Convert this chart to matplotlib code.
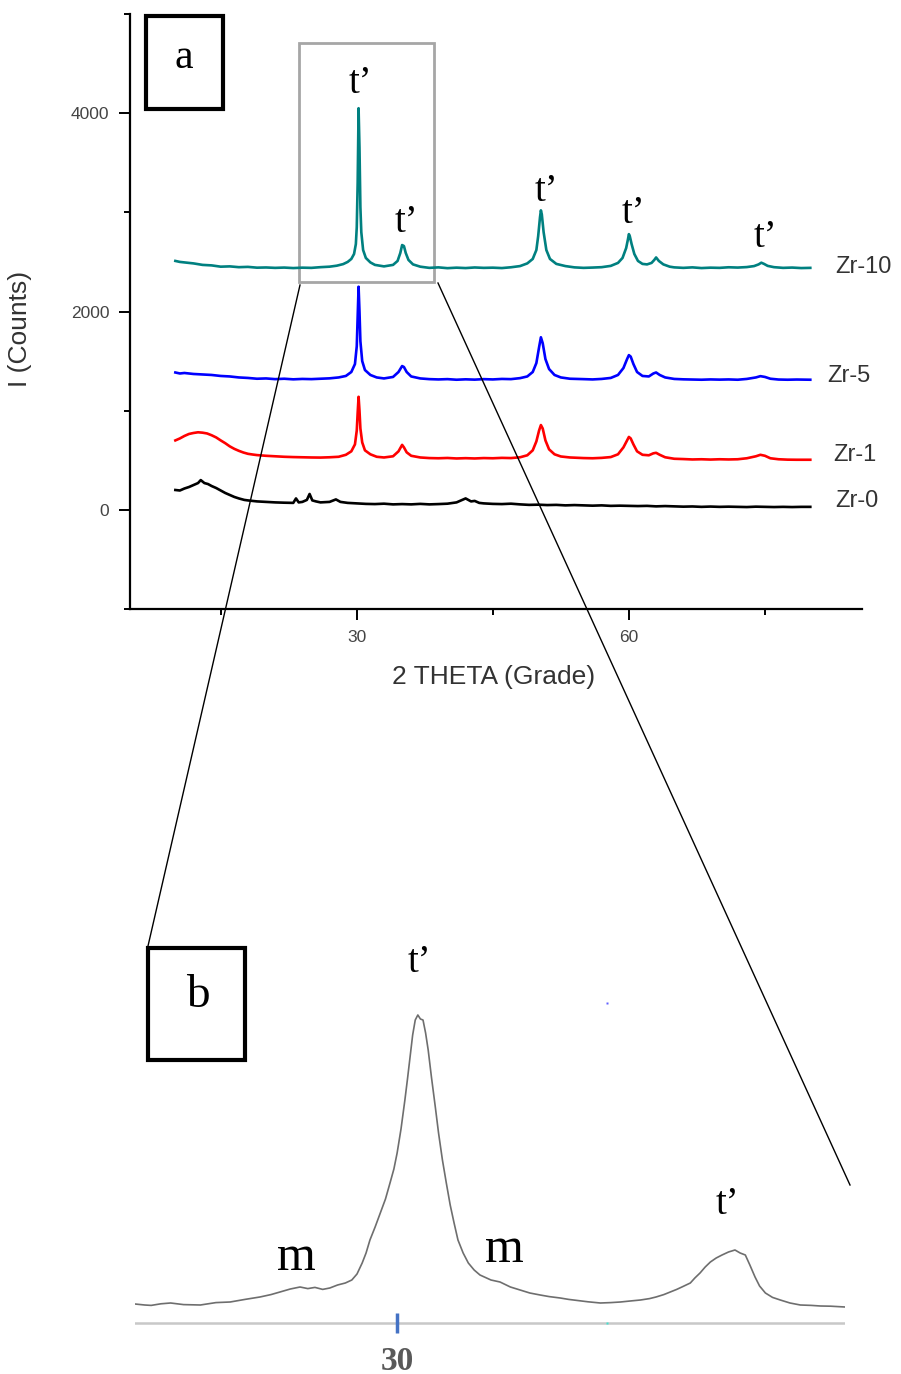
import matplotlib.pyplot as plt
from matplotlib.patches import Rectangle
from matplotlib.lines import Line2D

# XRD patterns (2 theta, counts)
zr10 = [(10, 2510), (10.5, 2500), (11, 2495), (12, 2485), (13, 2470), (14, 2465), (15, 2452), (16, 2455),
        (17, 2447), (18, 2450), (19, 2442), (20, 2444), (21, 2440), (22, 2443), (23, 2438), (24, 2442),
        (25, 2440), (26, 2447), (27, 2452), (27.8, 2462), (28.5, 2478), (29.0, 2500), (29.4, 2530),
        (29.7, 2580), (29.9, 2680), (30.0, 2850), (30.1, 3300), (30.2, 4050), (30.3, 3650), (30.4, 3050),
        (30.5, 2800), (30.7, 2620), (31.0, 2540), (31.5, 2495), (32.0, 2470), (33.0, 2455), (34.0, 2470),
        (34.5, 2510), (34.8, 2590), (35.0, 2670), (35.2, 2660), (35.4, 2590), (35.7, 2520), (36.2, 2475),
        (37, 2452), (38, 2440), (39, 2445), (40, 2437), (41, 2442), (42, 2438), (43, 2444), (44, 2440),
        (45, 2442), (46, 2438), (47, 2446), (48, 2458), (48.8, 2485), (49.4, 2530), (49.8, 2620),
        (50.0, 2760), (50.2, 2950), (50.3, 3020), (50.4, 2980), (50.6, 2800), (50.9, 2620), (51.3, 2530),
        (52, 2480), (53, 2458), (54, 2445), (55, 2440), (56, 2443), (57, 2447), (58, 2460), (58.8, 2490),
        (59.3, 2540), (59.7, 2640), (59.9, 2730), (60.0, 2780), (60.1, 2760), (60.3, 2680), (60.6, 2580),
        (61.0, 2510), (61.5, 2480), (62.0, 2475), (62.5, 2490), (62.8, 2520), (63.0, 2545), (63.3, 2510),
        (63.8, 2475), (64.5, 2452), (65, 2445), (66, 2440), (67, 2445), (68, 2438), (69, 2442), (70, 2440),
        (71, 2446), (72, 2443), (73, 2448), (73.8, 2458), (74.3, 2475), (74.6, 2492), (74.9, 2480),
        (75.3, 2460), (76, 2447), (77, 2440), (78, 2443), (79, 2438), (80, 2440)]

zr5 = [(10, 1385), (10.5, 1375), (11, 1380), (12, 1370), (13, 1365), (14, 1360), (15, 1350), (16, 1345),
       (17, 1335), (18, 1330), (19, 1322), (20, 1325), (21, 1318), (22, 1322), (23, 1316), (24, 1320),
       (25, 1318), (26, 1322), (27, 1326), (28, 1335), (28.8, 1350), (29.4, 1390), (29.8, 1470),
       (30.0, 1650), (30.1, 1950), (30.2, 2250), (30.3, 2000), (30.4, 1700), (30.6, 1500), (30.9, 1410),
       (31.5, 1360), (32.2, 1335), (33, 1325), (34, 1340), (34.6, 1390), (35.0, 1450), (35.2, 1440),
       (35.5, 1390), (36, 1345), (37, 1325), (38, 1318), (39, 1315), (40, 1318), (41, 1312), (42, 1316),
       (43, 1313), (44, 1318), (45, 1315), (46, 1320), (47, 1318), (48, 1328), (48.8, 1345), (49.4, 1390),
       (49.8, 1480), (50.1, 1640), (50.3, 1740), (50.5, 1680), (50.8, 1520), (51.2, 1420), (51.8, 1360),
       (52.5, 1335), (53.5, 1322), (55, 1318), (56, 1315), (57, 1320), (58, 1330), (58.8, 1360),
       (59.4, 1430), (59.8, 1520), (60.0, 1560), (60.2, 1545), (60.5, 1470), (60.9, 1390), (61.5, 1350),
       (62.2, 1345), (62.7, 1375), (63.0, 1385), (63.4, 1360), (64, 1335), (65, 1320), (66, 1316),
       (67, 1314), (68, 1312), (69, 1315), (70, 1313), (71, 1315), (72, 1312), (73, 1320), (74, 1335),
       (74.5, 1348), (75, 1340), (75.6, 1322), (76.5, 1314), (77.5, 1312), (78.5, 1314), (80, 1312)]

zr1 = [(10, 700), (10.5, 720), (11, 745), (11.5, 765), (12, 775), (12.5, 782), (13, 778), (13.5, 770),
       (14, 752), (14.5, 730), (15, 700), (15.5, 672), (16, 640), (16.5, 615), (17, 595), (17.5, 578),
       (18, 565), (18.5, 558), (19, 552), (20, 545), (21, 540), (22, 535), (23, 532), (24, 530), (25, 528),
       (26, 527), (27, 530), (28, 535), (28.8, 555), (29.4, 590), (29.8, 660), (30.0, 800), (30.1, 980),
       (30.2, 1140), (30.3, 1000), (30.4, 820), (30.6, 680), (30.9, 600), (31.5, 560), (32.2, 535),
       (33, 528), (34, 540), (34.6, 590), (35.0, 655), (35.2, 630), (35.5, 580), (36, 545), (37, 528),
       (38, 522), (39, 520), (40, 523), (41, 518), (42, 521), (43, 518), (44, 522), (45, 520), (46, 524),
       (47, 522), (48, 530), (48.8, 550), (49.4, 600), (49.8, 690), (50.1, 800), (50.3, 855), (50.5, 820),
       (50.8, 700), (51.2, 610), (51.8, 560), (52.5, 538), (53.5, 528), (55, 522), (56, 520), (57, 524),
       (58, 532), (58.8, 560), (59.4, 630), (59.8, 700), (60.0, 735), (60.2, 720), (60.5, 660), (60.9, 590),
       (61.5, 555), (62.2, 550), (62.7, 570), (63.0, 575), (63.4, 555), (64, 530), (65, 515), (66, 512),
       (67, 508), (68, 510), (69, 507), (70, 510), (71, 508), (72, 510), (73, 520), (74, 540), (74.5, 555),
       (75, 545), (75.6, 520), (76.5, 510), (77.5, 506), (78.5, 505), (80, 505)]

zr0 = [(10, 200), (10.5, 195), (11, 215), (11.5, 230), (12, 250), (12.5, 270), (12.8, 300), (13.2, 270),
       (13.6, 260), (14, 240), (14.5, 220), (15, 195), (15.5, 170), (16, 150), (16.5, 130), (17, 115),
       (17.6, 100), (18, 95), (19, 85), (20, 80), (21, 75), (22, 72), (23, 70), (23.3, 115), (23.6, 75),
       (24, 80), (24.5, 100), (24.8, 160), (25.1, 95), (25.5, 85), (26, 75), (27, 80), (27.7, 105),
       (28.2, 80), (29, 70), (30, 65), (31, 60), (32, 58), (33, 62), (34, 55), (35, 58), (36, 55), (37, 60),
       (38, 55), (39, 58), (40, 62), (41, 75), (42, 115), (42.6, 85), (43, 90), (43.5, 70), (44, 65),
       (45, 60), (46, 58), (47, 62), (48, 55), (49, 50), (50, 52), (51, 48), (52, 50), (53, 45), (54, 48),
       (55, 45), (56, 42), (57, 45), (58, 40), (59, 42), (60, 40), (61, 38), (62, 40), (63, 35), (64, 38),
       (65, 35), (66, 32), (67, 34), (68, 30), (69, 33), (70, 30), (71, 32), (72, 30), (73, 28), (74, 32),
       (75, 30), (76, 28), (77, 30), (78, 28), (79, 30), (80, 30)]

series = [("Zr-10", zr10, "#008080"), ("Zr-5", zr5, "#0000ff"),
          ("Zr-1", zr1, "#ff0000"), ("Zr-0", zr0, "#000000")]
# where the sample names sit (2 theta, counts)
name_pos = {"Zr-10": (82.8, 2450), "Zr-5": (81.9, 1350), "Zr-1": (82.5, 555), "Zr-0": (82.7, 90)}

# t' reflections marked in panel a
tprime_pos = [(30.4, 4300), (35.5, 2900), (50.9, 3210), (60.5, 2990), (75.0, 2750)]

# zoomed pattern around 30 deg (panel b)
zoom = [(25.95, 95), (26.1, 90), (26.2, 88), (26.35, 96), (26.5, 100), (26.7, 92), (26.96, 90), (27.2, 102),
        (27.42, 105), (27.65, 118), (27.88, 130), (28.05, 142), (28.19, 155), (28.35, 170), (28.50, 180),
        (28.62, 172), (28.73, 178), (28.85, 168), (28.96, 175), (29.08, 190), (29.20, 200), (29.30, 215),
        (29.38, 245), (29.46, 300), (29.52, 350), (29.58, 415), (29.66, 480), (29.74, 550), (29.82, 620),
        (29.89, 700), (29.95, 770), (30.00, 850), (30.06, 970), (30.12, 1115), (30.16, 1220), (30.20, 1330),
        (30.24, 1440), (30.28, 1515), (30.32, 1540), (30.36, 1520), (30.40, 1515), (30.44, 1450),
        (30.48, 1365), (30.53, 1230), (30.59, 1080), (30.64, 950), (30.70, 815), (30.76, 700), (30.82, 590),
        (30.88, 500), (30.94, 415), (31.02, 350), (31.10, 300), (31.19, 265), (31.28, 240), (31.45, 215),
        (31.59, 205), (31.75, 180), (31.90, 165), (32.05, 150), (32.21, 140), (32.35, 132), (32.52, 125),
        (32.65, 118), (32.8, 112), (32.95, 106), (33.14, 100), (33.3, 102), (33.45, 105), (33.6, 110),
        (33.76, 115), (33.9, 122), (34.0, 130), (34.12, 142), (34.22, 155), (34.32, 168), (34.4, 180),
        (34.53, 200), (34.6, 225), (34.68, 250), (34.76, 280), (34.84, 305), (34.93, 325), (35.02, 340),
        (35.12, 355), (35.22, 365), (35.30, 350), (35.38, 340), (35.45, 290), (35.53, 230), (35.6, 185),
        (35.69, 150), (35.8, 128), (35.92, 115), (36.07, 100), (36.23, 90), (36.4, 88), (36.54, 85),
        (36.7, 84), (36.92, 80)]
zoom_labels = [("t\u2019", 30.35, 1805), ("m", 28.45, 325), ("m", 31.65, 365), ("t\u2019", 35.1, 590)]

W, H = 901, 1374
sans = "Liberation Sans"
serif = "Liberation Serif"

fig = plt.figure(figsize=(W / 100, H / 100), dpi=100)

def frac(x0, y0, x1, y1):
    # pixel box -> figure fraction [left, bottom, width, height]
    return [x0 / W, 1 - y1 / H, (x1 - x0) / W, (y1 - y0) / H]

# ---- panel a ----
ax = fig.add_axes(frac(130, 14, 862, 609))
for name, pts, col in series:
    t, c = zip(*pts)
    ax.plot(t, c, color=col, lw=1.9)
    tx, ty = name_pos[name]
    ax.text(tx, ty, name, fontsize=17, family=sans, color="#333333", va="center", ha="left", clip_on=False)
for tx, ty in tprime_pos:
    ax.text(tx, ty, "t\u2019", fontsize=28, family=serif, ha="center", va="center")

ax.set_xlim(5, 85.7)
ax.set_ylim(-1000, 5000)
ax.set_xticks([30, 60])
ax.set_xticks([15, 45, 75], minor=True)
ax.set_yticks([0, 2000, 4000])
ax.set_yticks([-1000, 1000, 3000, 5000], minor=True)
ax.tick_params(which="major", direction="out", length=8, width=1.4, labelsize=12.5,
               labelcolor="#444444", pad=7)
ax.tick_params(which="minor", direction="out", length=4.5, width=1.4)
for lab in ax.get_xticklabels() + ax.get_yticklabels():
    lab.set_family(sans)
for s in ["top", "right"]:
    ax.spines[s].set_visible(False)
for s in ["left", "bottom"]:
    ax.spines[s].set_linewidth(1.6)
ax.set_xlabel("2 THETA (Grade)", fontsize=19, family=sans, color="#333333")
ax.set_ylabel("I (Counts)", fontsize=19, family=sans, color="#333333")
ax.xaxis.set_label_coords(0.497, -0.114)
ax.yaxis.set_label_coords(-0.15, 0.47)
ax.xaxis.label.set_va("center")
ax.yaxis.label.set_va("center")

# grey frame around the region shown in panel b
ax.add_patch(Rectangle((23.6, 2300), 14.9, 2405, fill=False, ec="#a6a6a6", lw=2, clip_on=False))

# ---- panel b ----
bx = fig.add_axes(frac(135, 1000, 845, 1340))
t, c = zip(*zoom)
bx.plot(t, c, color="#6e6e6e", lw=1.2)
bx.axhline(0, color="#c8c8c8", lw=1.8)
bx.vlines(30, -50, 50, color="#4472c4", lw=2.5)
bx.plot([33.25], [1600], marker="s", ms=1.5, color="#6060ff", mec="none")
bx.plot([33.25], [0], marker="s", ms=1.5, color="#40e0d0", mec="none")
bx.text(30, -190, "30", fontsize=24, family=serif, weight="bold", color="#595959", ha="center", va="center")
for lab, tx, ty in zoom_labels:
    bx.text(tx, ty, lab, fontsize=36 if lab == "m" else 28, family=serif, ha="center", va="center",
            clip_on=False)
bx.set_xlim(25.95, 36.92)
bx.set_ylim(-85, 1615)
bx.axis("off")

# ---- overlay: label boxes and zoom guide lines (pixel coordinates) ----
ov = fig.add_axes([0, 0, 1, 1])
ov.set_xlim(0, W)
ov.set_ylim(H, 0)
ov.axis("off")
ov.patch.set_alpha(0)
ov.add_patch(Rectangle((146, 16), 77, 93, fill=False, ec="black", lw=3))
ov.text(184, 58, "a", fontsize=30, family=serif, ha="center", va="center")
ov.add_patch(Rectangle((148, 948), 97, 112, fill=False, ec="black", lw=3))
ov.text(198, 996, "b", fontsize=34, family=serif, ha="center", va="center")
ov.add_line(Line2D([300, 148], [285, 946], color="black", lw=1))
ov.add_line(Line2D([438, 850], [283, 1185], color="black", lw=1))

fig.savefig("out.png", dpi=100)
